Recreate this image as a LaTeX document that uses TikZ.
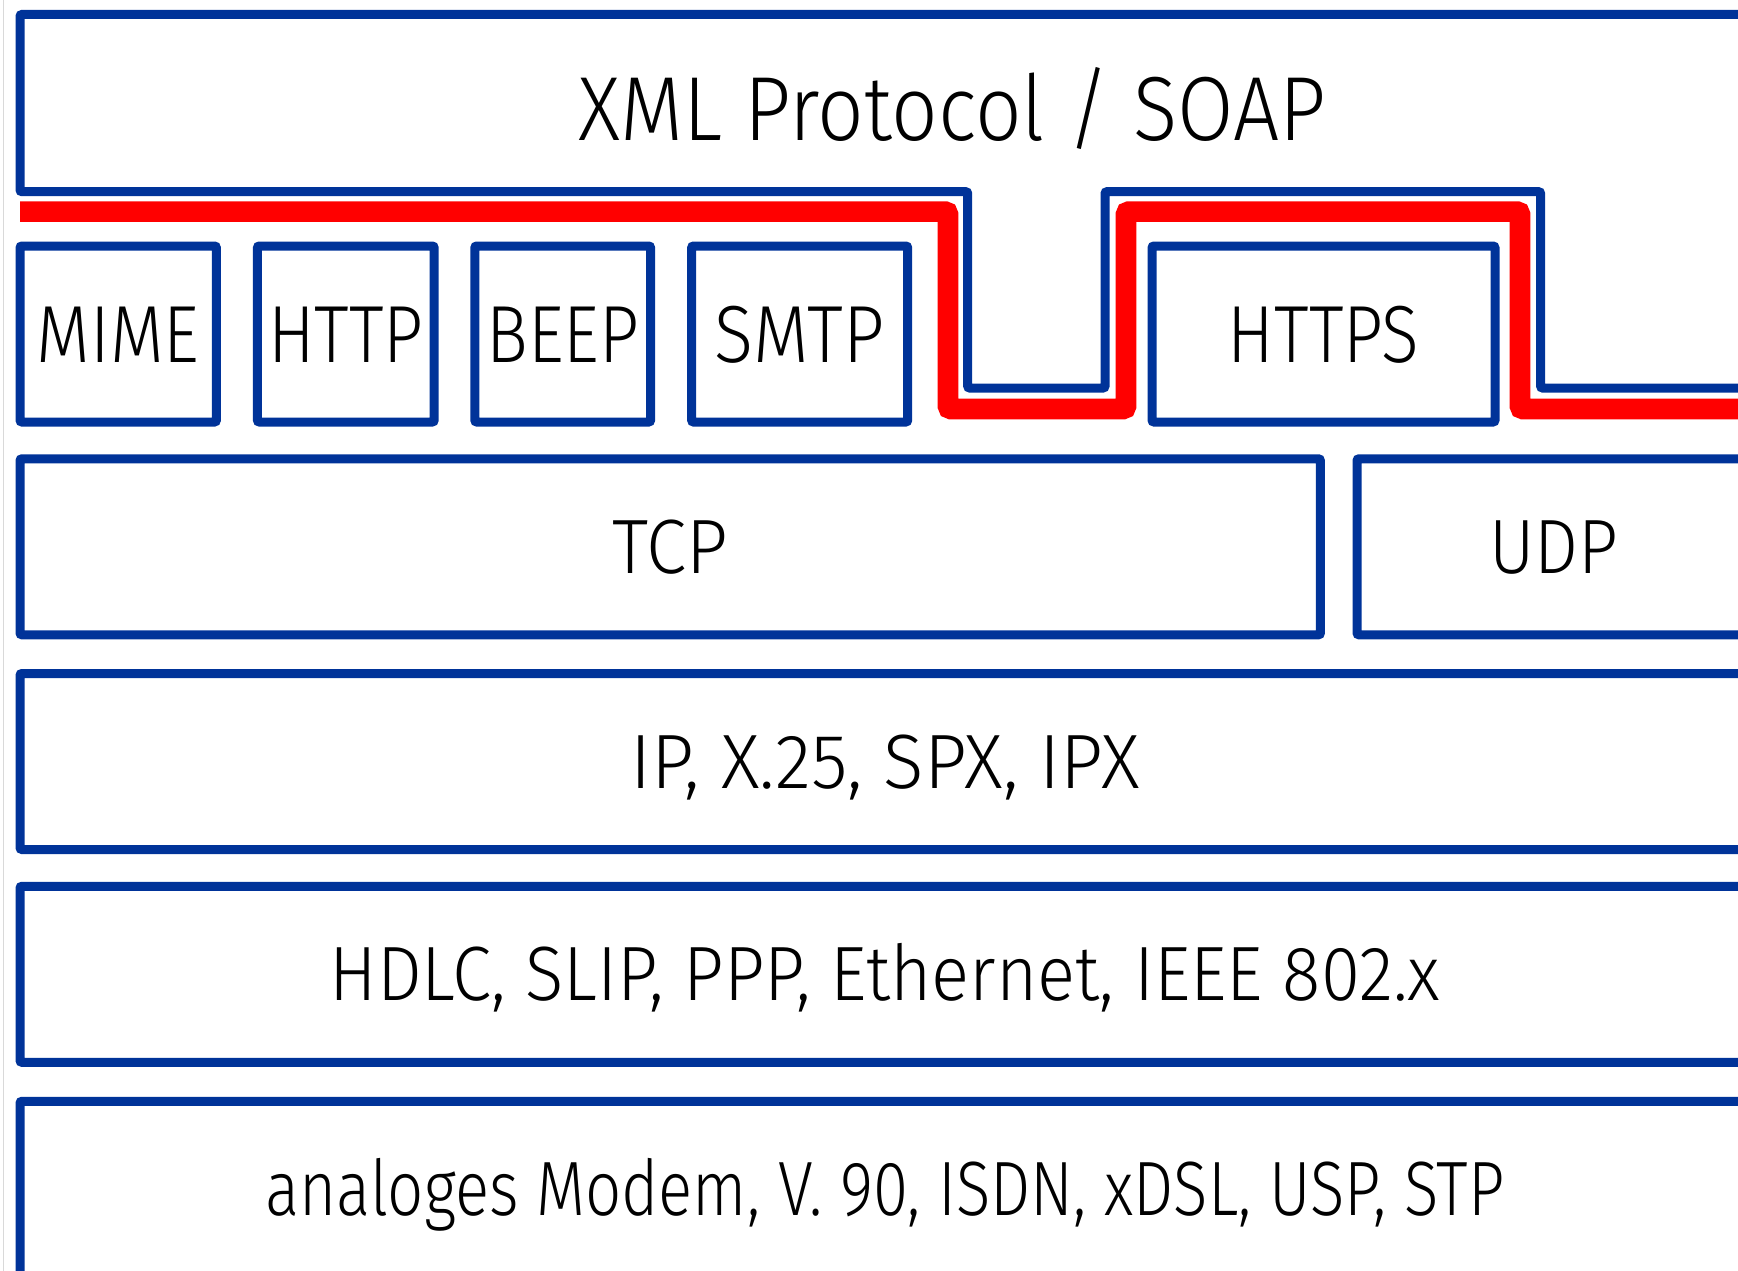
\documentclass[tikz,border=0pt]{standalone}
\usepackage{fontspec}
\setmainfont{Fira Sans Light}[FakeStretch=0.86]
\definecolor{stackblue}{RGB}{0,51,153}
\definecolor{soapred}{RGB}{255,0,0}
\usetikzlibrary{positioning}
\newcommand{\widen}[2]{\scalebox{#1}[1]{#2}}

\tikzset{
  layer/.style={draw=stackblue, line width=9pt, rounded corners=2pt, outer sep=0pt, inner sep=0pt,
    anchor=north west, minimum height=176pt, text height=53pt, text depth=0pt,
    font=\fontsize{77}{84}\selectfont},
  proto/.style={layer, minimum height=176pt, text height=56pt,
    font=\fontsize{81}{88}\selectfont}
}

\begin{document}
\begin{tikzpicture}[x=1pt, y=-1pt]
  \useasboundingbox (0,0) rectangle (1738,1271);
  \clip (0,0) rectangle (1738,1271);
  \draw[black!15, line width=1pt] (3,0) -- (3,1271);

  % XML / SOAP layer with the notch
  \draw[stackblue, line width=9pt, rounded corners=2pt]
    (1770,14.5) -- (20,14.5) -- (20,191.7) -- (967.7,191.7) -- (967.7,388) -- (1105,388)
    -- (1105,191.7) -- (1540.6,191.7) -- (1540.6,388) -- (1770,388);
  \node[font=\fontsize{91}{98}\selectfont, text height=63pt, text depth=0pt, inner sep=0pt] (xml) at (952,109) {\widen{1.045}{XML Protocol / SOAP}};

  \draw[soapred, line width=20.7pt, rounded corners=3pt]
    (20,211.6) -- (948,211.6) -- (948,409) -- (1126,409) -- (1126,211.6)
    -- (1520,211.6) -- (1520,409) -- (1770,409);

  \node[proto, minimum width=196.4pt] (mime) at (20,246) {MIME};
  \node[proto, minimum width=176.8pt, right=41pt of mime.north east, anchor=north west] (http) {HTTP};
  \node[proto, minimum width=175.8pt, right=40.6pt of http.north east, anchor=north west] (beep) {BEEP};
  \node[proto, minimum width=216.1pt, right=41pt of beep.north east, anchor=north west] (smtp) {\widen{1.035}{SMTP}};
  \node[proto, minimum width=343pt] (https) at (1152,246) {HTTPS};

  \node[layer, minimum width=1300.4pt] (tcp) at (20,458.8) {\widen{1.1}{TCP}};
  \node[layer, minimum width=393pt, right=36.6pt of tcp.north east, anchor=north west] (udp) {\widen{1.05}{UDP}};
  \node[layer, minimum width=1730pt] (ip) at (20,673.5) {\widen{1.13}{IP, X.25, SPX, IPX}};
  \node[layer, minimum width=1730pt] (link) at (20,886.3) {\widen{1.07}{HDLC, SLIP, PPP, Ethernet, IEEE 802.x}};
  \node[layer, minimum width=1730pt] (phys) at (20,1101.3) {\widen{0.96}{analoges Modem, V. 90, ISDN, xDSL, USP, STP}};
\end{tikzpicture}
\end{document}
